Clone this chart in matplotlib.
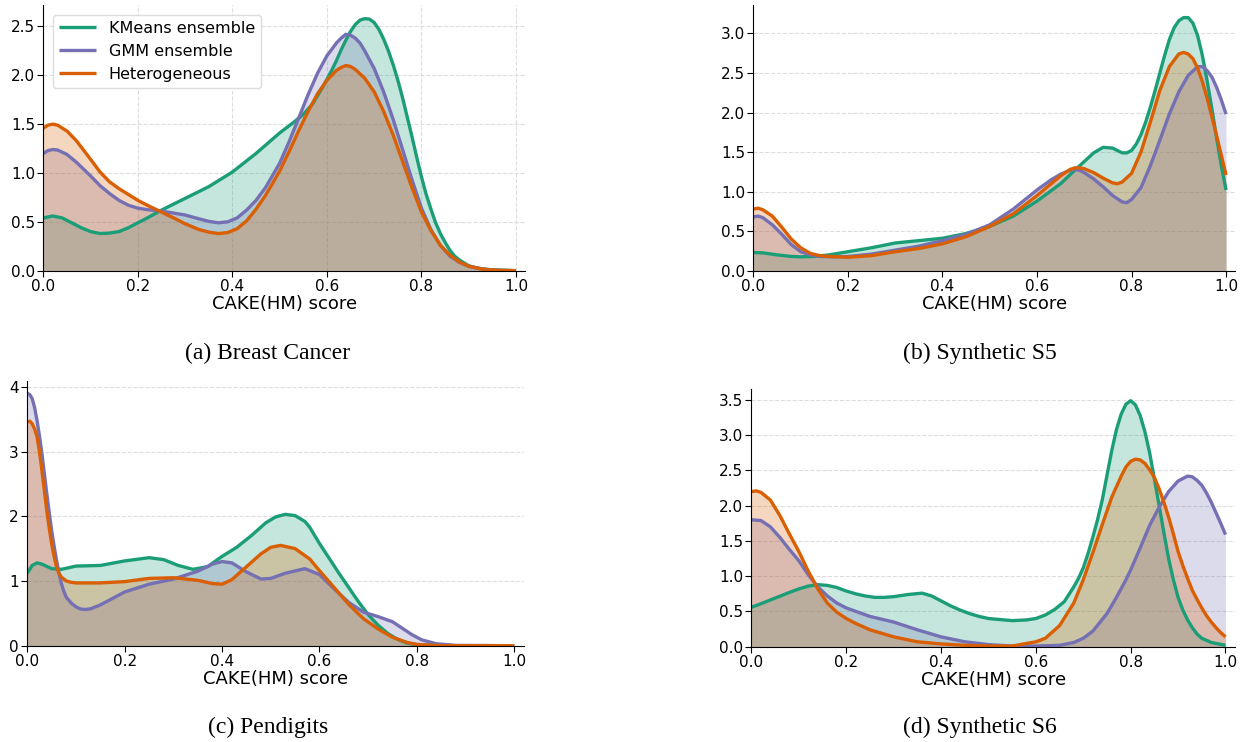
import matplotlib
matplotlib.use("Agg")
import matplotlib.pyplot as plt

# ---------------- data ----------------
series_names = ["KMeans ensemble", "GMM ensemble", "Heterogeneous"]
colors = ["#1b9e77", "#7570b3", "#d95f02"]
captions = ["(a) Breast Cancer", "(b) Synthetic S5", "(c) Pendigits", "(d) Synthetic S6"]
x_label = "CAKE(HM) score"

# (a) Breast Cancer
a_km_x = [0, .02, .04, .06, .08, .10, .12, .14, .16, .18, .20, .22, .25, .3, .35, .4, .45, .5, .53, .55, .57, .59, .61, .62, .63, .64, .65, .66, .67, .68, .69, .70, .71, .72, .73, .74, .75, .76, .77, .78, .79, .80, .81, .82, .83, .84, .85, .86, .87, .88, .9, .92, .95, 1.0]
a_km_y = [.54, .56, .54, .49, .44, .40, .38, .385, .40, .44, .49, .54, .62, .74, .86, 1.01, 1.20, 1.41, 1.52, 1.60, 1.71, 1.87, 2.05, 2.15, 2.26, 2.36, 2.45, 2.52, 2.565, 2.58, 2.575, 2.54, 2.47, 2.37, 2.25, 2.11, 1.95, 1.77, 1.57, 1.37, 1.16, 0.96, 0.78, 0.63, 0.49, 0.38, 0.29, 0.21, 0.15, 0.11, 0.05, 0.025, 0.008, 0.0]
a_gmm_x = [0, .01, .02, .03, .05, .07, .1, .12, .14, .16, .18, .2, .22, .25, .3, .33, .35, .37, .39, .41, .43, .45, .47, .5, .52, .54, .56, .58, .60, .62, .63, .64, .65, .66, .67, .68, .70, .72, .74, .76, .78, .80, .82, .84, .86, .88, .9, .93, .96, 1.0]
a_gmm_y = [1.20, 1.23, 1.24, 1.235, 1.19, 1.11, .97, .87, .79, .72, .67, .64, .625, .61, .57, .53, .505, .49, .50, .54, .62, .72, .85, 1.10, 1.32, 1.56, 1.80, 2.02, 2.20, 2.33, 2.38, 2.42, 2.41, 2.38, 2.33, 2.25, 2.07, 1.83, 1.55, 1.24, .93, .64, .42, .26, .15, .085, .045, .015, .004, 0.0]
a_het_x = [0, .01, .02, .03, .05, .07, .1, .12, .14, .16, .18, .2, .22, .25, .28, .3, .33, .35, .37, .39, .41, .43, .45, .47, .5, .52, .54, .56, .58, .6, .62, .63, .64, .65, .66, .68, .7, .72, .74, .76, .78, .8, .82, .84, .86, .88, .9, .93, .96, 1.0]
a_het_y = [1.46, 1.49, 1.50, 1.49, 1.43, 1.33, 1.14, 1.01, .91, .84, .78, .72, .67, .60, .53, .48, .42, .395, .38, .39, .43, .51, .63, .77, 1.02, 1.22, 1.43, 1.63, 1.81, 1.95, 2.05, 2.08, 2.10, 2.09, 2.06, 1.97, 1.83, 1.63, 1.39, 1.12, .85, .60, .41, .26, .16, .09, .045, .015, .004, 0.0]

# (b) Synthetic S5
b_km_x = [0, .02, .05, .08, .1, .13, .16, .2, .25, .3, .35, .4, .45, .5, .55, .6, .65, .68, .7, .72, .74, .76, .78, .79, .8, .81, .82, .83, .84, .85, .86, .87, .88, .89, .9, .91, .92, .93, .94, .95, .96, .97, .98, .99, 1.0]
b_km_y = [.23, .225, .20, .18, .175, .18, .20, .24, .29, .35, .38, .41, .47, .56, .69, .88, 1.10, 1.27, 1.38, 1.49, 1.56, 1.55, 1.49, 1.49, 1.52, 1.60, 1.72, 1.88, 2.07, 2.28, 2.50, 2.72, 2.92, 3.07, 3.16, 3.20, 3.20, 3.13, 2.97, 2.72, 2.40, 2.05, 1.68, 1.33, 1.02]
b_gmm_x = [0, .01, .02, .04, .06, .08, .1, .12, .14, .17, .2, .25, .3, .35, .4, .45, .5, .55, .6, .63, .65, .67, .68, .69, .7, .72, .74, .76, .78, .79, .8, .82, .84, .86, .88, .9, .92, .94, .95, .96, .97, .98, .99, 1.0]
b_gmm_y = [.68, .69, .67, .58, .46, .33, .24, .20, .18, .175, .18, .21, .26, .31, .38, .46, .58, .78, 1.02, 1.15, 1.22, 1.27, 1.28, 1.27, 1.24, 1.16, 1.06, .95, .87, .86, .90, 1.05, 1.33, 1.65, 1.98, 2.26, 2.47, 2.58, 2.58, 2.53, 2.45, 2.32, 2.16, 1.98]
b_het_x = [0, .01, .02, .04, .06, .08, .1, .12, .14, .16, .2, .25, .3, .35, .4, .45, .5, .55, .6, .63, .65, .67, .68, .69, .7, .72, .74, .76, .77, .78, .8, .82, .84, .86, .88, .9, .91, .92, .93, .94, .95, .96, .97, .98, .99, 1.0]
b_het_y = [.78, .79, .77, .69, .55, .40, .29, .22, .19, .18, .17, .19, .24, .28, .34, .43, .56, .72, .95, 1.10, 1.20, 1.28, 1.30, 1.30, 1.29, 1.24, 1.17, 1.11, 1.10, 1.12, 1.23, 1.50, 1.88, 2.28, 2.58, 2.74, 2.76, 2.74, 2.68, 2.56, 2.39, 2.18, 1.95, 1.71, 1.46, 1.21]

# (c) Pendigits
c_km_x = [0, .01, .02, .03, .05, .07, .1, .15, .2, .25, .28, .31, .34, .37, .4, .43, .46, .49, .51, .53, .55, .57, .58, .6, .62, .64, .66, .68, .7, .72, .74, .76, .78, .8, .85, 1.0]
c_km_y = [1.12, 1.24, 1.28, 1.26, 1.19, 1.18, 1.23, 1.24, 1.31, 1.36, 1.33, 1.24, 1.18, 1.22, 1.38, 1.52, 1.70, 1.90, 1.99, 2.03, 2.01, 1.92, 1.83, 1.58, 1.35, 1.12, 0.90, 0.68, 0.48, 0.32, 0.19, 0.10, 0.04, 0.015, 0.0, 0.0]
c_gmm_x = [0, .005, .01, .015, .02, .025, .03, .035, .04, .045, .05, .055, .06, .065, .07, .075, .08, .09, .1, .11, .12, .13, .15, .2, .25, .3, .35, .38, .4, .42, .45, .48, .5, .53, .57, .6, .63, .66, .69, .72, .75, .77, .79, .81, .84, .88, 1.0]
c_gmm_y = [3.90, 3.88, 3.82, 3.68, 3.48, 3.24, 2.97, 2.66, 2.35, 2.06, 1.78, 1.54, 1.32, 1.13, .96, .84, .75, .66, .60, .565, .56, .57, .63, .83, .95, 1.03, 1.15, 1.26, 1.30, 1.28, 1.14, 1.03, 1.04, 1.12, 1.19, 1.10, .88, .67, .52, .45, .37, .27, .17, .09, .03, .005, 0.0]
c_het_x = [0, .005, .01, .015, .02, .025, .03, .035, .04, .045, .05, .055, .06, .065, .07, .08, .09, .1, .15, .2, .25, .3, .35, .38, .4, .42, .45, .48, .5, .52, .55, .58, .6, .63, .66, .69, .72, .75, .78, .8, .85, 1.0]
c_het_y = [3.46, 3.47, 3.43, 3.35, 3.23, 3.00, 2.71, 2.40, 2.09, 1.82, 1.58, 1.38, 1.22, 1.12, 1.06, 1.00, .98, .97, .97, .99, 1.04, 1.05, 1.01, .96, .95, 1.02, 1.22, 1.42, 1.52, 1.55, 1.50, 1.34, 1.16, .90, .64, .42, .26, .13, .05, .02, 0.0, 0.0]

# (d) Synthetic S6
d_km_x = [0, .02, .05, .08, .1, .12, .14, .16, .18, .2, .22, .24, .26, .28, .3, .33, .36, .38, .4, .42, .44, .46, .48, .5, .55, .58, .6, .62, .64, .66, .68, .69, .70, .71, .72, .73, .74, .75, .76, .77, .78, .79, .80, .81, .82, .83, .84, .85, .86, .87, .88, .89, .9, .91, .92, .93, .94, .95, .97, 1.0]
d_km_y = [.56, .61, .69, .77, .82, .86, .88, .87, .84, .79, .75, .72, .70, .70, .71, .74, .76, .72, .65, .58, .52, .47, .43, .40, .37, .38, .40, .45, .53, .64, .85, .97, 1.12, 1.32, 1.55, 1.80, 2.08, 2.43, 2.78, 3.08, 3.30, 3.44, 3.49, 3.43, 3.28, 3.05, 2.75, 2.38, 2.00, 1.62, 1.25, .95, .70, .52, .38, .27, .18, .12, .06, .02]
d_gmm_x = [0, .02, .04, .06, .08, .1, .12, .14, .16, .18, .2, .25, .3, .35, .4, .45, .5, .55, .6, .65, .68, .7, .72, .75, .77, .79, .8, .82, .84, .86, .88, .9, .92, .93, .94, .95, .96, .97, .98, .99, 1.0]
d_gmm_y = [1.80, 1.79, 1.70, 1.55, 1.38, 1.22, 1.02, .85, .72, .62, .55, .43, .35, .24, .14, .07, .03, .01, .01, .02, .06, .12, .22, .47, .70, .95, 1.09, 1.40, 1.72, 1.98, 2.20, 2.35, 2.42, 2.41, 2.36, 2.29, 2.18, 2.05, 1.90, 1.75, 1.59]
d_het_x = [0, .01, .02, .04, .06, .08, .1, .12, .14, .16, .18, .2, .22, .25, .3, .35, .4, .45, .5, .55, .6, .62, .65, .68, .7, .72, .74, .76, .78, .79, .80, .81, .82, .83, .84, .85, .86, .87, .88, .89, .9, .91, .92, .93, .94, .95, .96, .97, .98, .99, 1.0]
d_het_y = [2.20, 2.21, 2.19, 2.08, 1.86, 1.60, 1.35, 1.07, .82, .62, .49, .40, .33, .24, .14, .07, .04, .02, .01, .01, .07, .12, .30, .62, .95, 1.33, 1.73, 2.12, 2.42, 2.55, 2.63, 2.66, 2.65, 2.60, 2.51, 2.40, 2.24, 2.05, 1.84, 1.60, 1.35, 1.15, .97, .80, .67, .55, .44, .35, .27, .20, .14]

panels = [
    [(a_km_x, a_km_y), (a_gmm_x, a_gmm_y), (a_het_x, a_het_y)],
    [(b_km_x, b_km_y), (b_gmm_x, b_gmm_y), (b_het_x, b_het_y)],
    [(c_km_x, c_km_y), (c_gmm_x, c_gmm_y), (c_het_x, c_het_y)],
    [(d_km_x, d_km_y), (d_gmm_x, d_gmm_y), (d_het_x, d_het_y)],
]
y_tops = [2.72, 3.36, 4.09, 3.655]
y_ticks = [[0, .5, 1, 1.5, 2, 2.5], [0, .5, 1, 1.5, 2, 2.5, 3], [0, 1, 2, 3, 4], [0, .5, 1, 1.5, 2, 2.5, 3, 3.5]]
x_ticks = [0, .2, .4, .6, .8, 1.0]

# ---------------- layout ----------------
W, H = 1252, 742
fig = plt.figure(figsize=(W / 100, H / 100), dpi=100)
rects = [
    [0.0346, 0.6352, 0.3851, 0.3581],
    [0.6018, 0.6352, 0.3850, 0.3581],
    [0.0218, 0.1298, 0.3967, 0.3567],
    [0.6002, 0.1284, 0.3862, 0.3473],
]
cap_pos = [(0.214, 0.524), (0.783, 0.524), (0.214, 0.020), (0.783, 0.020)]

for i, rect in enumerate(rects):
    ax = fig.add_axes(rect)
    ax.set_axisbelow(True)
    for j, (xs, ys) in enumerate(panels[i]):
        ax.fill_between(xs, ys, 0, color=colors[j], alpha=0.25, linewidth=0)
        ax.plot(xs, ys, color=colors[j], lw=2.4, label=series_names[j],
                solid_joinstyle="round", solid_capstyle="butt")
    ax.set_xlim(0, 1.02)
    ax.set_ylim(0, y_tops[i])
    ax.set_xticks(x_ticks)
    ax.set_yticks(y_ticks[i])
    if i == 2:
        ax.set_yticklabels([str(int(t)) for t in y_ticks[i]])
    else:
        ax.set_yticklabels([f"{t:.1f}" for t in y_ticks[i]])
    ax.set_xticklabels([f"{t:.1f}" for t in x_ticks])
    ax.tick_params(labelsize=11, length=4, width=0.8, pad=2)
    ax.set_xlabel(x_label, fontsize=13, labelpad=1)
    for s in ["top", "right"]:
        ax.spines[s].set_visible(False)
    if i == 0:
        ax.grid(True, axis="both", linestyle="--", color="#dddddd", linewidth=0.8)
        ax.legend(loc="upper left", fontsize=11.5, handlelength=2.3, borderaxespad=0.6,
                  framealpha=1.0, edgecolor="#dddddd")
    else:
        ax.grid(True, axis="y", linestyle="--", color="#dddddd", linewidth=0.8)
    fig.text(cap_pos[i][0], cap_pos[i][1], captions[i], ha="center", va="center",
             fontsize=17, family=["Liberation Serif", "DejaVu Serif"])

fig.savefig("out.png", dpi=100)
